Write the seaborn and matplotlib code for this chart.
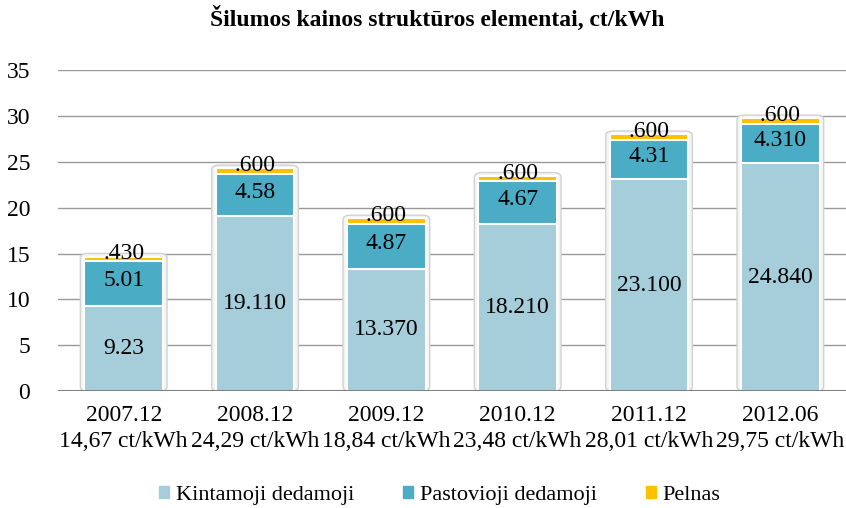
import numpy as np
import pandas as pd
import seaborn as sns
import matplotlib.pyplot as plt
from matplotlib.patches import Patch, FancyBboxPatch

# duomenys
periods = ["2007.12", "2008.12", "2009.12", "2010.12", "2011.12", "2012.06"]
totals_txt = ["14,67 ct/kWh", "24,29 ct/kWh", "18,84 ct/kWh",
              "23,48 ct/kWh", "28,01 ct/kWh", "29,75 ct/kWh"]
kintamoji = [9.23, 19.11, 13.37, 18.21, 23.10, 24.84]
pastovioji = [5.01, 4.58, 4.87, 4.67, 4.31, 4.31]
pelnas = [0.43, 0.60, 0.60, 0.60, 0.60, 0.60]
kint_lbl = ["9.23", "19.110", "13.370", "18.210", "23.100", "24.840"]
past_lbl = ["5.01", "4.58", "4.87", "4.67", "4.31", "4.310"]
peln_lbl = [".430", ".600", ".600", ".600", ".600", ".600"]

c_kint = "#A5CDDA"
c_past = "#4BACC6"
c_peln = "#FFC000"

sns.set_style("white")
plt.rcParams["font.family"] = ["Liberation Serif", "DejaVu Serif"]
plt.rcParams["text.color"] = "black"
plt.rcParams["xtick.color"] = "black"
plt.rcParams["ytick.color"] = "black"

df = pd.DataFrame({"period": periods,
                   "k": kintamoji, "p": pastovioji, "g": pelnas})
df["kp"] = df["k"] + df["p"]
df["kpg"] = df["kp"] + df["g"]

fig = plt.figure(figsize=(8.46, 5.08), dpi=100)
ax = fig.add_axes([0.0686, 0.230, 0.9314, 0.632])

# sudedamos dalys piešiamos nuo viršaus
for col, c in [("kpg", c_peln), ("kp", c_past), ("k", c_kint)]:
    sns.barplot(data=df, x="period", y=col, color=c, width=0.6, saturation=1,
                edgecolor="white", linewidth=1.5, ax=ax, zorder=3)

# šešėlio rėmelis aplink stulpelius
for bar in list(ax.patches)[:len(periods)]:
    x0, w, h = bar.get_x(), bar.get_width(), bar.get_height()
    ax.add_patch(FancyBboxPatch((x0 - 0.03, 0), w + 0.06, h + 0.35,
                                boxstyle="round,pad=0,rounding_size=0.06",
                                mutation_aspect=8, facecolor="#f4f4f4",
                                edgecolor="#d2d2d2", linewidth=1, zorder=2.5))

for i in range(len(periods)):
    k, p, g = kintamoji[i], pastovioji[i], pelnas[i]
    ax.text(i, k / 2, kint_lbl[i], ha="center", va="center", fontsize=17, zorder=5)
    ax.text(i, k + p / 2 + 0.3, past_lbl[i], ha="center", va="center", fontsize=17, zorder=5)
    ax.text(i, k + p + g + 0.3, peln_lbl[i], ha="center", va="center", fontsize=17, zorder=5)

ax.set_ylim(0, 35)
ax.set_xlim(-0.5, 5.5)
ax.set_yticks(np.arange(0, 36, 5))
ax.yaxis.grid(True, color="#9a9a9a", linewidth=1)
ax.set_axisbelow(True)
ax.axhline(0, color="#808080", linewidth=1.5, zorder=4)
for s in ax.spines.values():
    s.set_visible(False)
ax.set_xticks(range(len(periods)))
ax.set_xticklabels([f"{a}\n{b}" for a, b in zip(periods, totals_txt)], fontsize=17,
                   linespacing=1.3)
ax.tick_params(axis="x", length=0, pad=10)
ax.tick_params(axis="y", length=0, labelsize=17, pad=20)
ax.set_xlabel("")
ax.set_ylabel("")

fig.text(0.517, 0.963, "Šilumos kainos struktūros elementai, ct/kWh",
         ha="center", va="center", fontsize=17, fontweight="bold")

handles = [Patch(color=c_kint, label="Kintamoji dedamoji"),
           Patch(color=c_past, label="Pastovioji dedamoji"),
           Patch(color=c_peln, label="Pelnas")]
fig.legend(handles=handles, loc="center", bbox_to_anchor=(0.52, 0.025), ncol=3,
           frameon=False, fontsize=16, handlelength=0.45, handleheight=0.45,
           handletextpad=0.3, columnspacing=2.2)

fig.savefig("out.png", dpi=100)
